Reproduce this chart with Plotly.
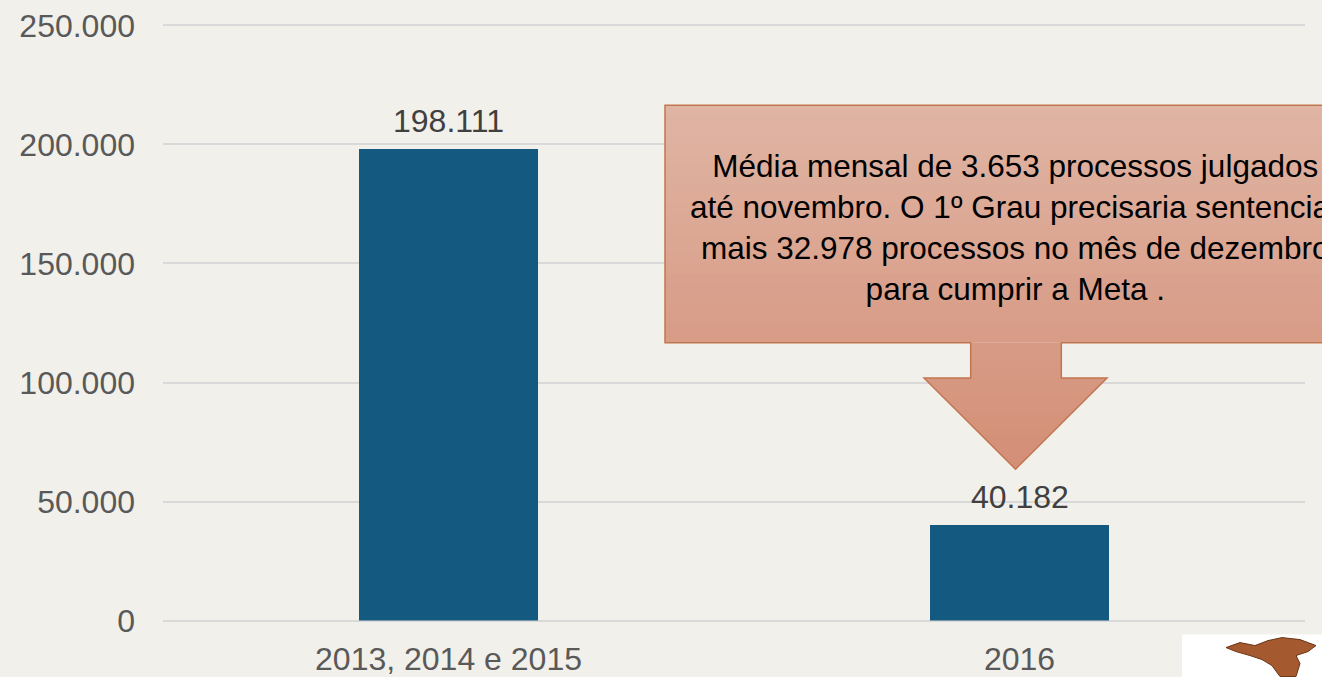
import plotly.graph_objects as go

# ---------------- data ----------------
categories = ["2013, 2014 e 2015", "2016"]
values = [198111, 40182]
y_ticks = [0, 50000, 100000, 150000, 200000, 250000]
y_tick_labels = ["0", "50.000", "100.000", "150.000", "200.000", "250.000"]
callout_lines = [
    "Média mensal de 3.653 processos julgados",
    "até novembro. O 1º Grau precisaria sentenciar",
    "mais 32.978 processos no mês de dezembro",
    "para cumprir a Meta .",
]

# ---------------- layout constants ----------------
W, H = 1322, 677
ML, MR = 163, 17
Y_TOP_PX, Y_ZERO_PX = 25, 621          # pixel rows of 250.000 and 0
Y_MIN, Y_MAX = -1000, 251000           # small padding so edge gridlines draw
PX_PER_UNIT = (Y_ZERO_PX - Y_TOP_PX) / 250000
MT = Y_TOP_PX - (Y_MAX - 250000) * PX_PER_UNIT
MB = H - Y_ZERO_PX - (0 - Y_MIN) * PX_PER_UNIT
PW, PH = W - ML - MR, H - MT - MB
FONT = "Liberation Sans, Arial, sans-serif"
AXIS_FONT_SIZE = 32
BAR_COLOR = "#14597f"
BAR_WIDTH = 179 / 571
positions = list(range(len(categories)))


def fmt(v):
    return f"{v:,}".replace(",", ".")


def px(x):
    return (x - ML) / PW


def py(y):
    return (H - MB - y) / PH


fig = go.Figure()
fig.add_trace(go.Bar(
    x=positions, y=values, width=BAR_WIDTH,
    marker=dict(color=BAR_COLOR, line=dict(width=0)),
    hoverinfo="skip", showlegend=False,
))

annotations = []
for p, v in zip(positions, values):
    annotations.append(dict(
        x=p, y=v, xref="x", yref="y", text=fmt(v), showarrow=False,
        yanchor="bottom", yshift=8,
        font=dict(family=FONT, size=AXIS_FONT_SIZE, color="#404040"),
    ))

# ---------------- callout (down arrow callout with vertical gradient) ----------------
RX0, RX1 = 665, 1366
RY0, RY1 = 105, 342.7
SX0, SX1 = 970.7, 1061.3
HY0 = 378
HX0, HX1 = 924, 1107
TIPX, TIPY = 1015.5, 469.5

top_rgb = (224, 181, 164)
bot_rgb = (211, 142, 118)


def col_at(y):
    t = (y - RY0) / (TIPY - RY0)
    t = max(0.0, min(1.0, t))
    r, g, b = (round(a + (b_ - a) * t) for a, b_ in zip(top_rgb, bot_rgb))
    return f"rgb({r},{g},{b})"


def edges(y):
    if y <= RY1:
        return RX0, RX1
    if y <= HY0:
        return SX0, SX1
    t = (y - HY0) / (TIPY - HY0)
    return HX0 + (TIPX - HX0) * t, HX1 + (TIPX - HX1) * t


def path_from(pts):
    return "M " + " L ".join(f"{px(x):.5f},{py(y):.5f}" for x, y in pts) + " Z"


shapes = []
segments = [(RY0, RY1, 24), (RY1, HY0, 4), (HY0, TIPY, 14)]
for ya, yb, n in segments:
    step = (yb - ya) / n
    for i in range(n):
        y0 = ya + i * step
        y1 = min(yb, y0 + step + 0.8)
        l0, r0 = edges(y0 + 1e-6)
        l1, r1 = edges(y1 - 1e-6)
        pts = [(l0, y0), (r0, y0), (r1, y1), (l1, y1)]
        shapes.append(dict(
            type="path", xref="paper", yref="paper", path=path_from(pts),
            fillcolor=col_at(y0 + step / 2), line=dict(width=0), layer="above",
        ))

outline = [
    (RX0, RY0), (RX1, RY0), (RX1, RY1), (SX1, RY1), (SX1, HY0), (HX1, HY0),
    (TIPX, TIPY), (HX0, HY0), (SX0, HY0), (SX0, RY1), (RX0, RY1),
]
shapes.append(dict(
    type="path", xref="paper", yref="paper", path=path_from(outline),
    fillcolor="rgba(0,0,0,0)", line=dict(color="#c27650", width=1.5), layer="above",
))

annotations.append(dict(
    x=px(TIPX), y=py(227), xref="paper", yref="paper",
    text="<br>".join(callout_lines), showarrow=False, align="center",
    xanchor="center", yanchor="middle",
    font=dict(family=FONT, size=31.5, color="#000000"),
))

# ---------------- logo placeholder (white box, bottom right) ----------------
shapes.append(dict(
    type="rect", xref="paper", yref="paper",
    x0=px(1182), x1=px(1330), y0=py(635), y1=py(690),
    fillcolor="#ffffff", line=dict(width=0), layer="above",
))
eagle = [(1226, 648), (1240, 643), (1255, 646), (1268, 641), (1282, 638), (1300, 640),
         (1316, 646), (1308, 652), (1296, 656), (1300, 664), (1296, 677), (1280, 677),
         (1272, 666), (1262, 660), (1250, 656), (1236, 652)]
shapes.append(dict(
    type="path", xref="paper", yref="paper", path=path_from(eagle),
    fillcolor="#a5592e", line=dict(color="#6b3416", width=1), layer="above",
))

fig.update_layout(
    width=W, height=H,
    margin=dict(l=ML, r=MR, t=MT, b=MB, pad=0, autoexpand=False),
    paper_bgcolor="#f2f0eb", plot_bgcolor="rgba(0,0,0,0)",
    showlegend=False,
    shapes=shapes, annotations=annotations,
    font=dict(family=FONT, size=AXIS_FONT_SIZE, color="#595959"),
    xaxis=dict(
        type="linear", range=[-0.5, len(categories) - 0.5],
        tickvals=positions, ticktext=categories,
        showgrid=False, showline=False, zeroline=False, ticks="",
        tickfont=dict(family=FONT, size=AXIS_FONT_SIZE, color="#595959"),
        ticklabelstandoff=14, fixedrange=True, automargin=False,
    ),
    yaxis=dict(
        range=[Y_MIN, Y_MAX], tickvals=y_ticks, ticktext=y_tick_labels,
        showgrid=True, gridcolor="#d9d9d9", gridwidth=1.5,
        zeroline=False, showline=False, ticks="",
        tickfont=dict(family=FONT, size=AXIS_FONT_SIZE, color="#595959"),
        ticklabelstandoff=27, fixedrange=True, automargin=False,
    ),
)

fig.write_html("out.html", config={"displayModeBar": False},
               post_script="document.body.style.margin='0';")
